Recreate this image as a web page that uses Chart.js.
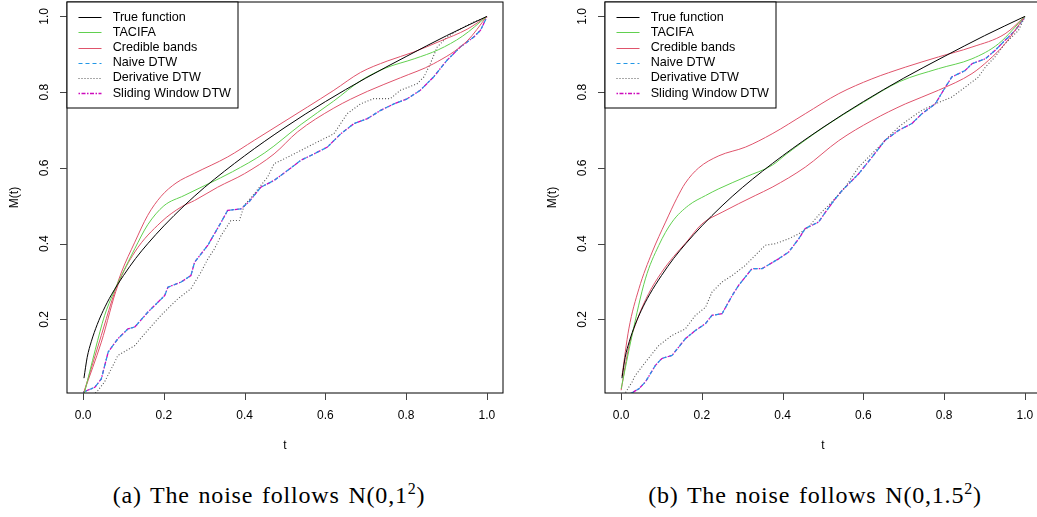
<!DOCTYPE html>
<html>
<head>
<meta charset="utf-8">
<script src="https://cdn.jsdelivr.net/npm/chart.js@4"></script>
<style>
  html, body { margin: 0; padding: 0; background: #fff; }
  #page { position: relative; width: 1037px; height: 517px; overflow: hidden; }
  .panel { position: absolute; top: 0; width: 518px; height: 470px; }
  .caption {
    position: absolute; top: 482px; transform: translateX(-50%);
    font-family: "Liberation Serif", "DejaVu Serif", serif; font-size: 24px;
    letter-spacing: 0.8px; word-spacing: 2px;
    color: #000; white-space: nowrap; line-height: 27px;
  }
  .caption sup { font-size: 16px; vertical-align: baseline; position: relative; top: -9px; }
</style>
</head>
<body>
<div id="page">
  <canvas id="chartA" class="panel" width="518" height="470" style="left:0"></canvas>
  <canvas id="chartB" class="panel" width="518" height="470" style="left:538px"></canvas>
  <div class="caption" style="left:269px">(a) The noise follows N(0,1<sup>2</sup>)</div>
  <div class="caption" style="left:815px">(b) The noise follows N(0,1.5<sup>2</sup>)</div>
</div>
<script>
// axis ticks
var X_TICKS = [0, 0.2, 0.4, 0.6, 0.8, 1.0];
var Y_TICKS = [0.2, 0.4, 0.6, 0.8, 1.0];
var LEGEND_LABELS = ['True function', 'TACIFA', 'Credible bands', 'Naive DTW', 'Derivative DTW', 'Sliding Window DTW'];

// true function (same in both panels)
var TRUE_T = [0.002, 0.01, 0.02, 0.035, 0.05, 0.07, 0.1, 0.13, 0.16, 0.2, 0.25, 0.3, 0.4, 0.5, 0.6, 0.7, 0.8, 0.9, 1.0];
var TRUE_M = [0.045, 0.100, 0.141, 0.187, 0.224, 0.265, 0.316, 0.361, 0.400, 0.447, 0.500, 0.548, 0.632, 0.707, 0.775, 0.837, 0.894, 0.949, 1.0];

// (a) noise N(0,1^2)
var FIT_A_T = [0.003, 0.03, 0.053, 0.075, 0.095, 0.128, 0.16, 0.2, 0.25, 0.31, 0.37, 0.45, 0.54, 0.62, 0.69, 0.75, 0.82, 0.88, 0.94, 1.0];
var FIT_A = [0.005, 0.12, 0.21, 0.27, 0.316, 0.387, 0.45, 0.50, 0.527, 0.558, 0.59, 0.64, 0.715, 0.776, 0.832, 0.864, 0.888, 0.912, 0.948, 1.0];
var UP_A_T = [0.002, 0.045, 0.07, 0.095, 0.128, 0.16, 0.193, 0.23, 0.276, 0.358, 0.424, 0.49, 0.556, 0.621, 0.687, 0.753, 0.819, 0.885, 0.951, 1.0];
var UP_A = [0.008, 0.158, 0.246, 0.325, 0.404, 0.475, 0.525, 0.56, 0.586, 0.629, 0.673, 0.717, 0.761, 0.805, 0.852, 0.882, 0.906, 0.935, 0.966, 1.0];
var LOW_A_T = [0.002, 0.045, 0.086, 0.128, 0.193, 0.243, 0.276, 0.333, 0.40, 0.473, 0.531, 0.621, 0.704, 0.786, 0.868, 0.951, 1.0];
var LOW_A = [0.008, 0.14, 0.29, 0.378, 0.457, 0.497, 0.514, 0.549, 0.585, 0.637, 0.695, 0.758, 0.802, 0.838, 0.875, 0.935, 1.0];
var WIN_A_T = [0.0, 0.029, 0.045, 0.062, 0.086, 0.111, 0.128, 0.16, 0.202, 0.21, 0.243, 0.267, 0.276, 0.309, 0.342, 0.358, 0.391, 0.412, 0.44, 0.473, 0.506, 0.539, 0.572, 0.605, 0.638, 0.671, 0.704, 0.737, 0.77, 0.802, 0.835, 0.868, 0.901, 0.934, 0.967, 0.984, 1.0];
var WIN_A = [0.008, 0.021, 0.043, 0.114, 0.149, 0.175, 0.18, 0.219, 0.263, 0.285, 0.299, 0.316, 0.351, 0.396, 0.457, 0.488, 0.492, 0.512, 0.549, 0.567, 0.593, 0.62, 0.637, 0.655, 0.69, 0.717, 0.73, 0.752, 0.769, 0.782, 0.805, 0.84, 0.884, 0.919, 0.945, 0.963, 0.998];
var DER_A_T = [0.025, 0.037, 0.053, 0.078, 0.086, 0.128, 0.152, 0.193, 0.235, 0.267, 0.292, 0.309, 0.325, 0.342, 0.366, 0.387, 0.399, 0.424, 0.457, 0.473, 0.506, 0.539, 0.572, 0.621, 0.654, 0.687, 0.72, 0.761, 0.786, 0.827, 0.844, 0.86, 0.877, 0.901, 0.934, 0.967, 1.0];
var DER_A = [0.0, 0.013, 0.035, 0.087, 0.105, 0.131, 0.162, 0.211, 0.255, 0.281, 0.325, 0.36, 0.386, 0.422, 0.461, 0.461, 0.501, 0.532, 0.576, 0.611, 0.628, 0.646, 0.664, 0.69, 0.743, 0.769, 0.783, 0.783, 0.805, 0.822, 0.84, 0.875, 0.919, 0.945, 0.967, 0.985, 0.998];

// (b) noise N(0,1.5^2)
var FIT_B_T = [0.0, 0.027, 0.06, 0.093, 0.126, 0.167, 0.209, 0.242, 0.308, 0.374, 0.41, 0.5, 0.6, 0.69, 0.786, 0.869, 0.935, 1.0];
var FIT_B = [0.017, 0.158, 0.307, 0.395, 0.457, 0.501, 0.527, 0.545, 0.576, 0.607, 0.637, 0.706, 0.773, 0.828, 0.862, 0.888, 0.928, 1.0];
var UP_B_T = [0.002, 0.019, 0.044, 0.077, 0.11, 0.138, 0.159, 0.192, 0.242, 0.308, 0.374, 0.456, 0.539, 0.621, 0.704, 0.786, 0.869, 0.951, 1.0];
var UP_B = [0.05, 0.175, 0.281, 0.378, 0.457, 0.52, 0.56, 0.6, 0.632, 0.655, 0.69, 0.743, 0.796, 0.835, 0.866, 0.893, 0.919, 0.954, 1.0];
var LOW_B_T = [0.0, 0.019, 0.04, 0.068, 0.1, 0.13, 0.16, 0.2, 0.25, 0.332, 0.374, 0.456, 0.539, 0.621, 0.704, 0.786, 0.869, 0.91, 0.951, 1.0];
var LOW_B = [0.013, 0.128, 0.2, 0.268, 0.324, 0.366, 0.402, 0.452, 0.483, 0.527, 0.549, 0.602, 0.672, 0.725, 0.769, 0.805, 0.849, 0.884, 0.928, 1.0];
var WIN_B_T = [0.023, 0.044, 0.06, 0.085, 0.101, 0.126, 0.159, 0.184, 0.209, 0.225, 0.25, 0.275, 0.291, 0.324, 0.349, 0.39, 0.415, 0.44, 0.456, 0.489, 0.506, 0.53, 0.547, 0.588, 0.621, 0.654, 0.687, 0.72, 0.745, 0.778, 0.803, 0.819, 0.852, 0.869, 0.902, 0.926, 0.951, 0.976, 1.0];
var WIN_B = [0.004, 0.017, 0.035, 0.079, 0.097, 0.105, 0.149, 0.171, 0.189, 0.211, 0.215, 0.263, 0.29, 0.334, 0.334, 0.36, 0.378, 0.413, 0.44, 0.457, 0.483, 0.518, 0.54, 0.584, 0.628, 0.673, 0.699, 0.717, 0.743, 0.769, 0.813, 0.84, 0.857, 0.875, 0.888, 0.91, 0.937, 0.963, 0.998];
var DER_B_T = [0.007, 0.027, 0.035, 0.06, 0.093, 0.126, 0.159, 0.184, 0.209, 0.225, 0.25, 0.275, 0.308, 0.332, 0.357, 0.382, 0.415, 0.44, 0.464, 0.489, 0.522, 0.555, 0.588, 0.621, 0.654, 0.687, 0.72, 0.745, 0.778, 0.819, 0.852, 0.885, 0.902, 0.926, 0.951, 0.984, 1.0];
var DER_B = [0.0, 0.035, 0.052, 0.087, 0.131, 0.158, 0.175, 0.211, 0.232, 0.272, 0.299, 0.316, 0.343, 0.369, 0.396, 0.4, 0.413, 0.426, 0.444, 0.475, 0.51, 0.549, 0.602, 0.637, 0.673, 0.708, 0.734, 0.752, 0.769, 0.787, 0.813, 0.84, 0.866, 0.893, 0.928, 0.963, 0.998];

// R default palette styles
var STYLE = {
  truth: { color: '#000000', dash: [], width: 1 },
  fit:   { color: '#61D04F', dash: [], width: 1 },
  band:  { color: '#DF536B', dash: [], width: 1 },
  naive: { color: '#2297E6', dash: [4, 3], width: 1.2 },
  deriv: { color: '#555555', dash: [1, 2], width: 1.1 },
  slide: { color: '#CD0BBC', dash: [1.5, 1.5, 4, 1.5], width: 1.3 }
};
var LEGEND_STYLES = [STYLE.truth, STYLE.fit, STYLE.band, STYLE.naive, STYLE.deriv, STYLE.slide];

function pts(ts, vs) {
  return ts.map(function (t, i) { return { x: t, y: vs[i] }; });
}

function series(data, st, smooth) {
  return {
    data: data,
    borderColor: st.color,
    borderWidth: st.width,
    borderDash: st.dash,
    pointRadius: 0,
    fill: false,
    cubicInterpolationMode: smooth ? 'monotone' : 'default',
    tension: 0
  };
}

var FONT = '"Liberation Sans", Arial, sans-serif';

var rFrame = {
  id: 'rFrame',
  afterDatasetsDraw: function (chart) {
    var ctx = chart.ctx, a = chart.chartArea;
    var xs = chart.scales.x, ys = chart.scales.y;
    ctx.save();
    ctx.setLineDash([]);
    ctx.strokeStyle = '#000';
    ctx.lineWidth = 1;
    ctx.strokeRect(a.left, a.top, a.right - a.left, a.bottom - a.top);

    // tick marks
    ctx.strokeStyle = '#444';
    ctx.beginPath();
    X_TICKS.forEach(function (v) {
      var px = Math.round(xs.getPixelForValue(v)) + 0.5;
      ctx.moveTo(px, a.bottom); ctx.lineTo(px, a.bottom + 7);
    });
    Y_TICKS.forEach(function (v) {
      var py = Math.round(ys.getPixelForValue(v)) + 0.5;
      ctx.moveTo(a.left, py); ctx.lineTo(a.left - 7, py);
    });
    ctx.stroke();

    // tick labels
    ctx.fillStyle = '#000';
    ctx.font = '12px ' + FONT;
    ctx.textAlign = 'center';
    ctx.textBaseline = 'middle';
    X_TICKS.forEach(function (v) {
      ctx.fillText(v.toFixed(1), xs.getPixelForValue(v), a.bottom + 23);
    });
    Y_TICKS.forEach(function (v) {
      ctx.save();
      ctx.translate(a.left - 22, ys.getPixelForValue(v));
      ctx.rotate(-Math.PI / 2);
      ctx.fillText(v.toFixed(1), 0, 0);
      ctx.restore();
    });

    // axis titles
    ctx.fillText('t', (a.left + a.right) / 2, a.bottom + 53);
    ctx.save();
    ctx.translate(a.left - 52, (a.top + a.bottom) / 2);
    ctx.rotate(-Math.PI / 2);
    ctx.fillText('M(t)', 0, 0);
    ctx.restore();

    // legend, top left inside the box
    var lx = a.left, ly = a.top, lw = 171, lh = 106;
    ctx.fillStyle = '#fff';
    ctx.fillRect(lx, ly, lw, lh);
    ctx.strokeStyle = '#000';
    ctx.lineWidth = 1;
    ctx.strokeRect(lx, ly, lw, lh);
    ctx.font = '12.6px ' + FONT;
    ctx.textAlign = 'left';
    LEGEND_LABELS.forEach(function (lab, i) {
      var st = LEGEND_STYLES[i];
      var y = ly + 15.3 + i * 15.15;
      ctx.beginPath();
      ctx.strokeStyle = st.color;
      ctx.lineWidth = st.width;
      ctx.setLineDash(st.dash);
      ctx.moveTo(lx + 11.5, Math.round(y) + 0.5);
      ctx.lineTo(lx + 34.5, Math.round(y) + 0.5);
      ctx.stroke();
      ctx.fillStyle = '#000';
      ctx.fillText(lab, lx + 45.7, y);
    });
    ctx.restore();
  }
};

function makePanel(id, sets) {
  return new Chart(document.getElementById(id), {
    type: 'line',
    data: { datasets: sets },
    options: {
      responsive: false,
      animation: false,
      devicePixelRatio: 1,
      layout: { padding: { left: 67, top: 2, right: 15, bottom: 77 } },
      plugins: { legend: { display: false }, tooltip: { enabled: false } },
      scales: {
        x: { type: 'linear', display: false, min: -0.04, max: 1.04 },
        y: { type: 'linear', display: false, min: 0.0058, max: 1.038 }
      }
    },
    plugins: [rFrame]
  });
}

makePanel('chartA', [
  series(pts(TRUE_T, TRUE_M), STYLE.truth, true),
  series(pts(FIT_A_T, FIT_A), STYLE.fit, true),
  series(pts(UP_A_T, UP_A), STYLE.band, true),
  series(pts(LOW_A_T, LOW_A), STYLE.band, true),
  series(pts(WIN_A_T, WIN_A), STYLE.naive, false),
  series(pts(DER_A_T, DER_A), STYLE.deriv, false),
  series(pts(WIN_A_T, WIN_A), STYLE.slide, false)
]);

makePanel('chartB', [
  series(pts(TRUE_T, TRUE_M), STYLE.truth, true),
  series(pts(FIT_B_T, FIT_B), STYLE.fit, true),
  series(pts(UP_B_T, UP_B), STYLE.band, true),
  series(pts(LOW_B_T, LOW_B), STYLE.band, true),
  series(pts(WIN_B_T, WIN_B), STYLE.naive, false),
  series(pts(DER_B_T, DER_B), STYLE.deriv, false),
  series(pts(WIN_B_T, WIN_B), STYLE.slide, false)
]);
</script>
</body>
</html>
